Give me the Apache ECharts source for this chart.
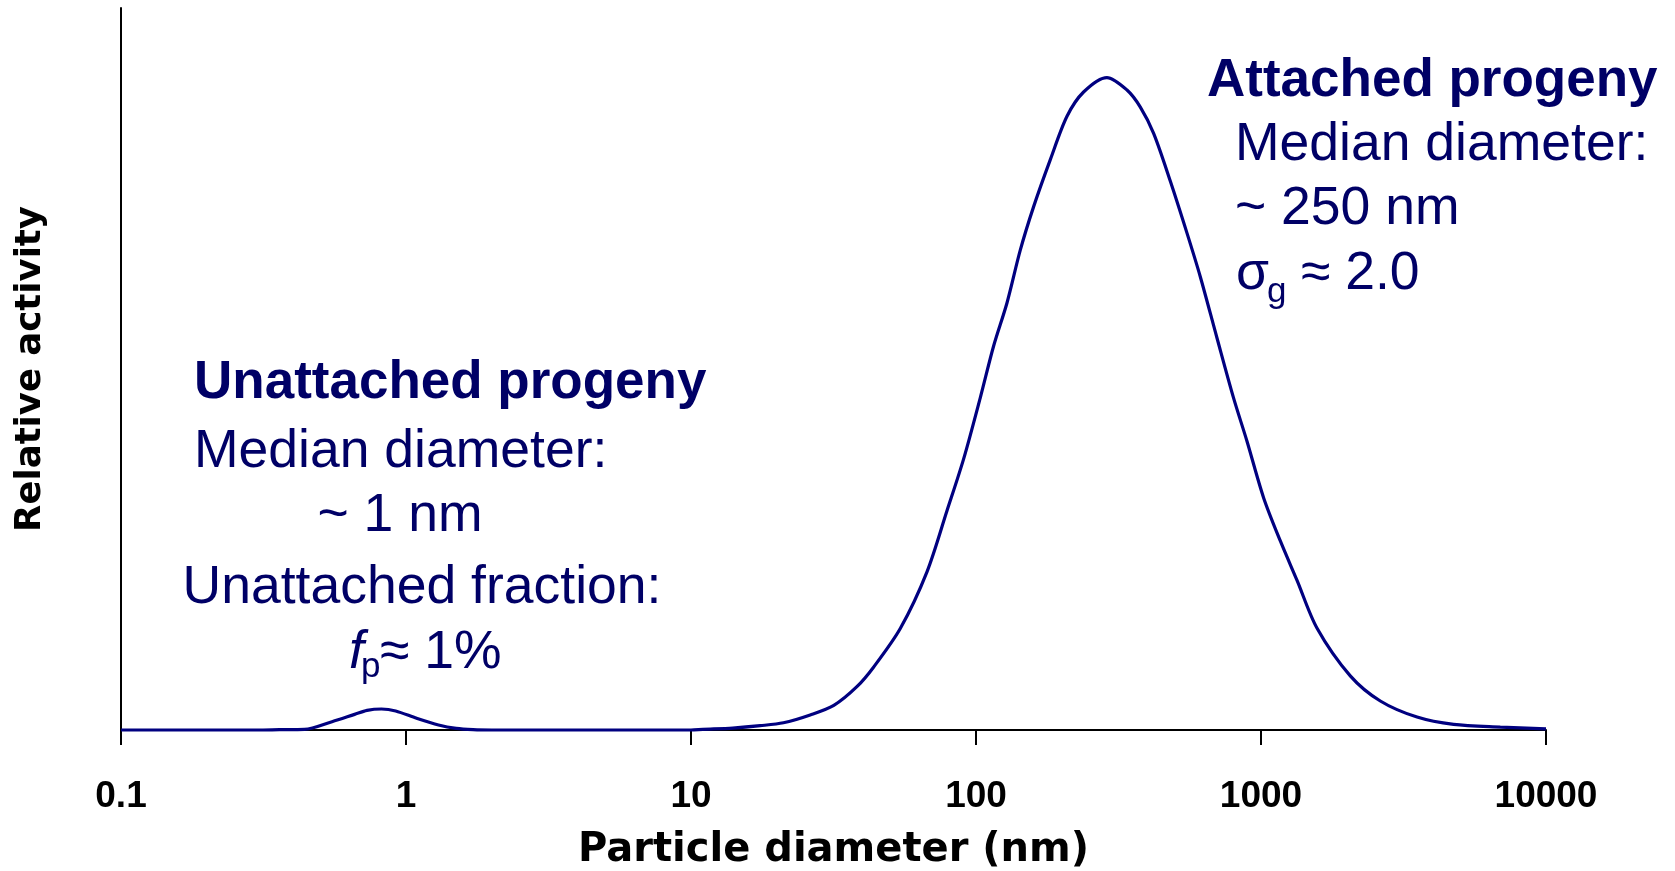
<!DOCTYPE html>
<html>
<head>
<meta charset="utf-8">
<title>Relative activity vs particle diameter</title>
<script src="https://cdn.jsdelivr.net/npm/echarts@6.0.0/dist/echarts.min.js"></script>
<style>
  html, body { margin: 0; padding: 0; background: #fff; }
  #chart { width: 1675px; height: 871px; }
</style>
</head>
<body>
<div id="chart"></div>
<script>
// particle diameter (nm)
var diameters = [0.1, 0.2, 0.3, 0.36, 0.44, 0.55, 0.66, 0.73, 0.82, 0.92, 1.09, 1.3, 1.5, 1.72, 2, 5, 10,
  11, 14, 17.5, 21.1, 26.2, 31.7, 38.2, 43.7, 54.3, 67.3, 79.1, 90.5, 103.5, 115.3, 128.5, 143, 159.2,
  182.3, 208.6, 238.5, 288, 338.7, 377.2, 420, 480.8, 550, 612, 700, 801, 893, 1021, 1169, 1338, 1573,
  2057, 2622, 3528, 4741, 6912, 10000];
// relative activity (peak of attached mode ~ 1)
var activity = [0, 0, 0, 0.0005, 0.001, 0.0127, 0.0238, 0.0299, 0.032, 0.029, 0.0178, 0.0076, 0.0024, 0.0005, 0, 0, 0,
  0.001, 0.003, 0.0066, 0.011, 0.023, 0.0375, 0.066, 0.0957, 0.155, 0.241, 0.334, 0.413, 0.506, 0.585, 0.651, 0.731, 0.797,
  0.869, 0.935, 0.972, 0.994, 0.975, 0.949, 0.909, 0.836, 0.757, 0.691, 0.598, 0.506, 0.44, 0.354, 0.288, 0.228, 0.155,
  0.0825, 0.0442, 0.0197, 0.0085, 0.0044, 0.0018];
var xTicks = ['0.1', '1', '10', '100', '1000', '10000'];

var navy = '#000066';
var regular = '53.5px "Liberation Sans", Arial, sans-serif';
var bold = 'bold 53px "Liberation Sans", Arial, sans-serif';
var small = '35px "Liberation Sans", Arial, sans-serif';

function label(text, x, y, font, align) {
  return {
    type: 'text',
    x: x,
    y: y,
    style: {
      text: text,
      font: font,
      fill: navy,
      textAlign: align || 'left',
      textVerticalAlign: 'middle'
    }
  };
}

function buildSeries() {
  var points = [];
  for (var i = 0; i < diameters.length; i++) {
    points.push([diameters[i], activity[i]]);
  }
  return points;
}

var chart = echarts.init(document.getElementById('chart'));
chart.setOption({
  animation: false,
  backgroundColor: '#fff',
  grid: { left: 121, right: 129, top: 8, bottom: 141, outerBoundsMode: 'none', containLabel: false },
  xAxis: {
    type: 'log',
    logBase: 10,
    min: 0.1,
    max: 10000,
    interval: 1,
    name: 'Particle diameter (nm)',
    nameLocation: 'middle',
    nameGap: 101,
    nameTextStyle: { color: '#000', fontSize: 40, fontWeight: 'bold', fontFamily: '"DejaVu Sans", sans-serif' },
    axisLine: { lineStyle: { color: '#000', width: 2 } },
    axisTick: { length: 15, lineStyle: { color: '#000', width: 2 } },
    axisLabel: {
      margin: 48,
      color: '#000',
      fontSize: 37,
      fontWeight: 'bold',
      fontFamily: '"Liberation Sans", Arial, sans-serif',
      formatter: function(v) {
        var idx = Math.round(Math.log(v) / Math.LN10) + 1;
        return xTicks[idx] || '';
      }
    },
    splitLine: { show: false },
    minorTick: { show: false }
  },
  yAxis: {
    type: 'value',
    min: 0,
    max: 1.1,
    name: 'Relative activity',
    nameLocation: 'middle',
    nameGap: 72,
    nameTextStyle: { color: '#000', fontSize: 35.5, fontWeight: 'bold', fontFamily: '"DejaVu Sans", sans-serif' },
    axisLine: { show: true, lineStyle: { color: '#000', width: 2 } },
    axisTick: { show: false },
    axisLabel: { show: false },
    splitLine: { show: false }
  },
  series: [{
    type: 'line',
    data: buildSeries(),
    smooth: 0.3,
    showSymbol: false,
    clip: false,
    lineStyle: { color: '#000080', width: 3.2 }
  }],
  graphic: [
    label('Attached progeny', 1207, 81, bold),
    label('Median diameter:', 1235, 145, regular),
    label('~ 250 nm', 1235, 209, regular),
    label('\u03c3', 1236, 274, regular),
    label('g', 1267, 292, small),
    label('\u2248 2.0', 1301, 274, regular),

    label('Unattached progeny', 194, 383, bold),
    label('Median diameter:', 194, 452, regular),
    label('~ 1 nm', 400, 516, regular, 'center'),
    label('Unattached fraction:', 422, 588, regular, 'center'),
    label('f', 349, 653, 'italic ' + regular),
    label('p', 361, 667, small),
    label('\u2248 1%', 380, 653, regular)
  ]
});
</script>
</body>
</html>
